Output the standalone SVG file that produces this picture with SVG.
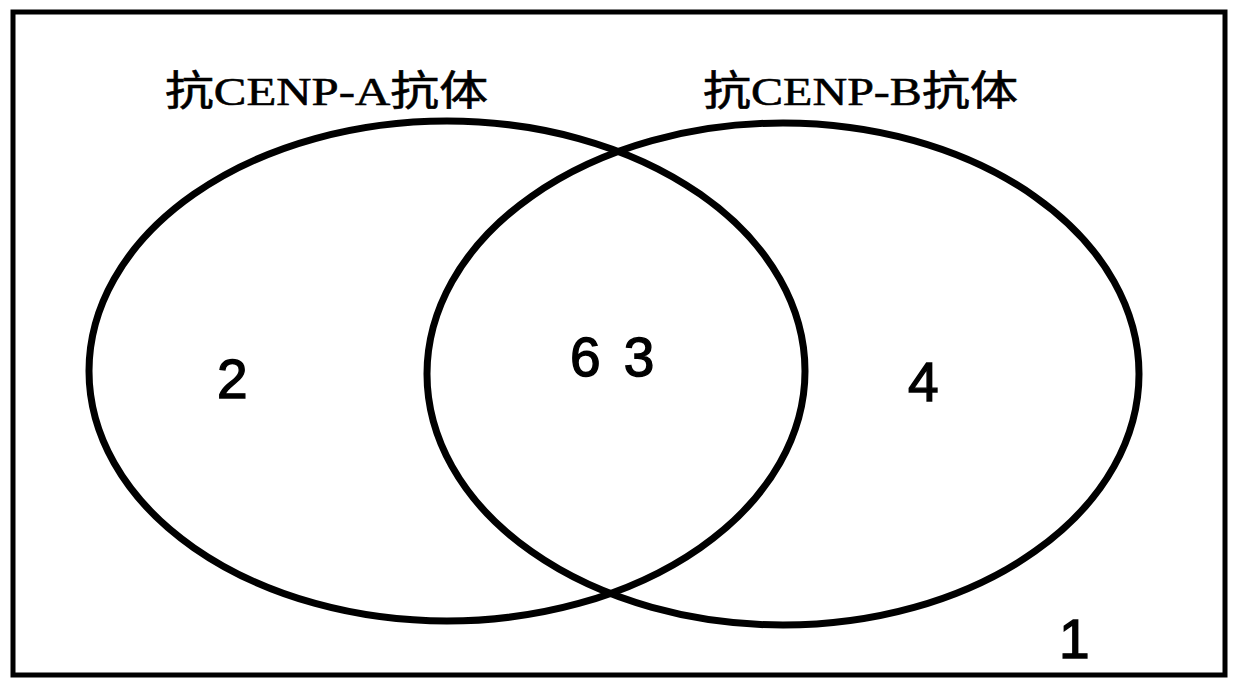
<svg xmlns="http://www.w3.org/2000/svg" width="1233" height="683" viewBox="0 0 1233 683">
<style>
.frame{fill:none;stroke:#000;stroke-width:5}
.set{fill:none;stroke:#000;stroke-width:7}
.lbl{font-family:"Liberation Serif","Noto Sans CJK SC",serif;font-size:41px;fill:#000;stroke:#000;stroke-width:0.6}
.num{font-family:"Liberation Sans",Arial,sans-serif;font-size:55px;fill:#000;stroke:#000;stroke-width:1.4}
</style>
<rect width="1233" height="683" fill="#fff"/>
<g id="frame"><rect class="frame" x="13" y="12" width="1212" height="663"/></g>
<g id="setA">
<ellipse class="set" cx="447" cy="371" rx="358" ry="250"/>
<text class="lbl" x="165" y="105" textLength="323" lengthAdjust="spacingAndGlyphs">抗CENP-A抗体</text>
<text class="num" x="217" y="398">2</text>
</g>
<g id="setB">
<ellipse class="set" cx="783" cy="374" rx="356" ry="251"/>
<text class="lbl" x="703" y="105" textLength="315" lengthAdjust="spacingAndGlyphs">抗CENP-B抗体</text>
<text class="num" x="908" y="401">4</text>
</g>
<g id="intersection"><text class="num" x="570" y="376" word-spacing="8">6 3</text></g>
<g id="outside"><text class="num" x="1059" y="658">1</text></g>
<g id="connectors"/>
</svg>
